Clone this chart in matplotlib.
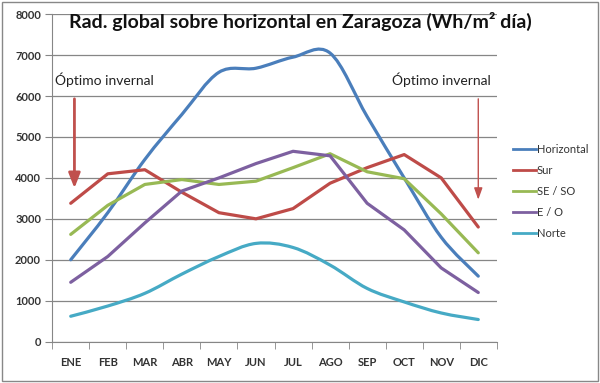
"""
Radiación global diaria media en Zaragoza según orientación de la superficie.
Salida: out.png
"""
import numpy as np
import matplotlib.pyplot as plt
from matplotlib.path import Path
from matplotlib.patches import PathPatch, Rectangle
from matplotlib.lines import Line2D

MESES = ["ENE", "FEB", "MAR", "ABR", "MAY", "JUN", "JUL", "AGO", "SEP", "OCT", "NOV", "DIC"]
HORIZONTAL = [2000, 3150, 4450, 5550, 6580, 6680, 6950, 7050, 5500, 4000, 2550, 1600]
SUR = [3380, 4100, 4200, 3650, 3150, 3000, 3250, 3870, 4250, 4570, 4000, 2800]
SE_SO = [2620, 3330, 3840, 3960, 3840, 3920, 4250, 4590, 4150, 3980, 3120, 2170]
E_O = [1450, 2080, 2900, 3680, 4000, 4350, 4650, 4540, 3380, 2730, 1800, 1200]
NORTE = [620, 870, 1180, 1650, 2080, 2400, 2300, 1870, 1300, 970, 700, 540]

# (nombre, valores, color, suavizado)
SERIES = [
    ("Horizontal", HORIZONTAL, "#4A7EBB", True),
    ("Sur", SUR, "#BE4B48", False),
    ("SE / SO", SE_SO, "#98B954", False),
    ("E / O", E_O, "#7D60A0", False),
    ("Norte", NORTE, "#46AAC5", True),
]

plt.rcParams["font.family"] = ["Lato", "DejaVu Sans"]


def curva(x, y, suave):
    """Polilínea o Bezier cúbica tipo Excel (Catmull-Rom) por los puntos."""
    pts = np.column_stack([x, y]).astype(float)
    if not suave:
        return Path(pts)
    verts = [pts[0]]
    codes = [Path.MOVETO]
    n = len(pts)
    for i in range(n - 1):
        p0 = pts[i - 1] if i > 0 else pts[i]
        p1, p2 = pts[i], pts[i + 1]
        p3 = pts[i + 2] if i + 2 < n else pts[i + 1]
        verts += [p1 + (p2 - p0) / 6.0, p2 - (p3 - p1) / 6.0, p2]
        codes += [Path.CURVE4] * 3
    return Path(verts, codes)


fig = plt.figure(figsize=(6.0, 3.83), dpi=100)
ax = fig.add_axes([0.087, 0.108, 0.741, 0.855])

x = np.arange(len(MESES))
handles = []
for nombre, vals, color, suave in SERIES:
    ax.add_patch(PathPatch(curva(x, vals, suave), fill=False, edgecolor=color,
                           lw=2.3, capstyle="round", joinstyle="round", zorder=3))
    handles.append(Line2D([], [], color=color, lw=2.0, label=nombre))

ax.set_xlim(-0.5, len(MESES) - 0.5)
ax.set_ylim(0, 8000)
ax.set_yticks(range(0, 8001, 1000))
ax.set_xticks(x)
ax.set_xticklabels(MESES)
ax.set_xticks(np.arange(-0.5, len(MESES), 1.0), minor=True)
ax.tick_params(axis="x", which="major", length=0, pad=11)
ax.tick_params(axis="x", which="minor", length=5, color="#868686")
ax.tick_params(axis="y", length=5, color="#868686", pad=3)
for lab in ax.get_xticklabels() + ax.get_yticklabels():
    lab.set_fontweight("bold")
    lab.set_fontsize(8)
    lab.set_color("#333333")

ax.grid(axis="y", color="#868686", lw=0.9)
ax.set_axisbelow(True)
for lado in ["top", "right"]:
    ax.spines[lado].set_visible(False)
for lado in ["left", "bottom"]:
    ax.spines[lado].set_color("#868686")

# Flechas "Óptimo invernal"
ax.annotate("", xy=(0.1, 3680), xytext=(0.1, 6000),
            arrowprops=dict(arrowstyle="-|>,head_length=0.9,head_width=0.35",
                            color="#C0504D", lw=2.0))
ax.text(-0.42, 6400, "Óptimo invernal", fontsize=10, color="#222222", ha="left", va="center")
ax.annotate("", xy=(11.0, 3400), xytext=(11.0, 6000),
            arrowprops=dict(arrowstyle="-|>,head_length=0.7,head_width=0.25",
                            color="#C0504D", lw=1.0))
ax.text(11.35, 6400, "Óptimo invernal", fontsize=10, color="#222222", ha="right", va="center")

fig.text(0.5, 0.945, "Rad. global sobre horizontal en Zaragoza (Wh/m² día)",
         ha="center", va="center", fontsize=14, fontweight="bold", color="#111111")

fig.legend(handles=handles, loc="upper left", bbox_to_anchor=(0.838, 0.65),
           frameon=False, fontsize=8, handlelength=2.1, handletextpad=0.05,
           labelspacing=0.9, labelcolor="#333333")

fig.patches.append(Rectangle((0.003, 0.004), 0.994, 0.992, transform=fig.transFigure,
                             fill=False, edgecolor="#888888", lw=1.0))

fig.savefig("out.png", dpi=100)
